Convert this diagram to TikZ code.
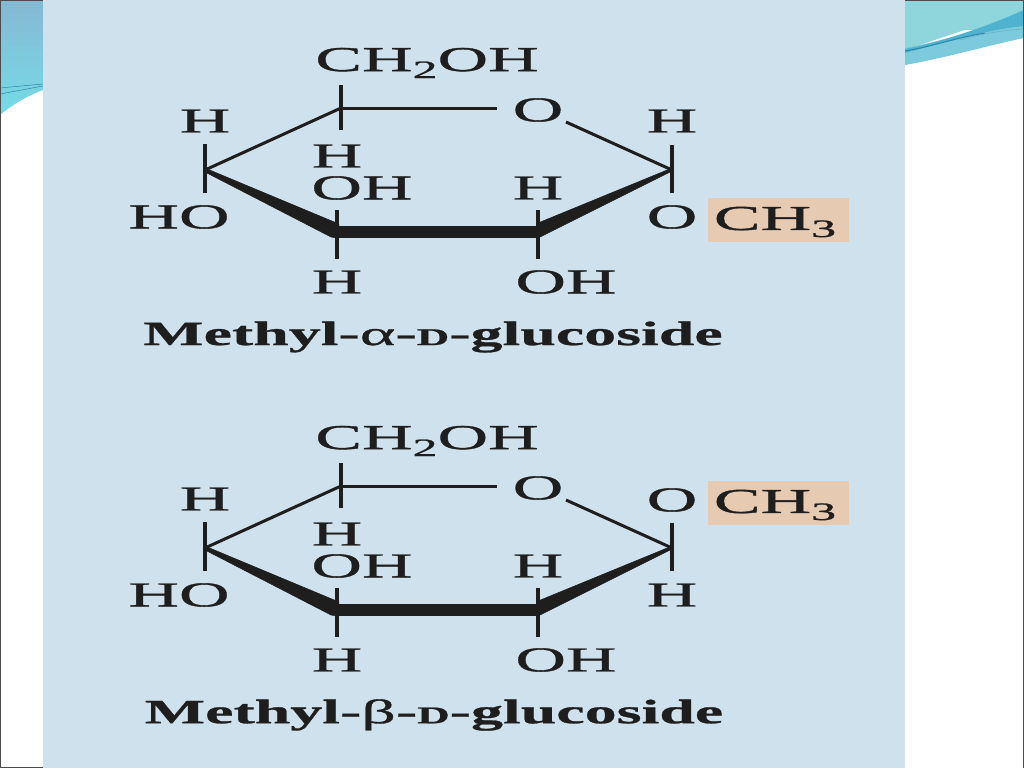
\documentclass[tikz,border=0pt]{standalone}
\usepackage{fontspec}
\usetikzlibrary{calc}
\newfontfamily\chem[FakeStretch=2.0,FakeBold=1.0]{Liberation Serif}
\newfontfamily\chemb[FakeStretch=1.88,FakeBold=0.8]{Liberation Serif Bold}
\definecolor{panel}{HTML}{CFE1EC}
\definecolor{inkc}{HTML}{1E1E1E}
\definecolor{tagc}{HTML}{E6CAB2}
\definecolor{tealA}{HTML}{8FD6DC}
\definecolor{tealB}{HTML}{7CCBDD}
\definecolor{tealC}{HTML}{4FB3CF}
\definecolor{tealD}{HTML}{2E86A8}
\definecolor{leftT}{HTML}{86B8D2}
\definecolor{leftB}{HTML}{74DCE8}
\newcommand{\subnum}[1]{\raisebox{-7pt}{\fontsize{25}{25}\selectfont #1}}
\tikzset{
  atom/.style={font=\chem\fontsize{35}{35}\selectfont,text=inkc,inner sep=0pt,outer sep=0pt},
  title/.style={font=\chemb\fontsize{34}{34}\selectfont,text=inkc,inner sep=0pt},
  tag/.style={fill=tagc,draw=none,minimum width=141pt,minimum height=44pt,inner sep=0pt},
  thinbond/.style={draw=inkc,line width=3pt},
  stem/.style={draw=inkc,line width=3.6pt},
  boldbond/.style={draw=inkc,line width=12.5pt},
  wedgeb/.style={fill=inkc,draw=inkc,line width=.5pt,line join=round}
}
% #1 prefix, #2 y offset
\newcommand{\ringcore}[2]{%
  \begin{scope}[shift={(0,#2)},name prefix=#1-]
    \coordinate (c1) at (672,170);
    \coordinate (c2) at (538,232);
    \coordinate (c3) at (337,232);
    \coordinate (c4) at (205,170);
    \coordinate (c5) at (341,108);
    \coordinate (c1t) at (672,145);
    \coordinate (c1b) at (672,193);
    \coordinate (c2t) at (538,210);
    \coordinate (c2b) at (538,259);
    \coordinate (c3t) at (337,210);
    \coordinate (c3b) at (337,259);
    \coordinate (c4t) at (205,144);
    \coordinate (c4b) at (205,193);
    \coordinate (c5t) at (341,85);
    \coordinate (c5b) at (341,130);
    \coordinate (oin) at (497,108);
    \coordinate (oout) at (566,122);
    \node[atom] (ch2oh) at (427,63) {CH\subnum{2}OH};
    \node[atom] (ringo) at (538,110) {O};
    \node[atom] (h4) at (205,121) {H};
    \node[atom] (ho4) at (179,217) {HO};
    \node[atom] (h5) at (337,156) {H};
    \node[atom] (oh3) at (362,188) {OH};
    \node[atom] (h3) at (337,282) {H};
    \node[atom] (h2) at (538,188) {H};
    \node[atom] (oh2) at (566,282) {OH};
    \draw[thinbond] (c5) -- (oin);
    \draw[thinbond] (c5) -- (c4);
    \draw[thinbond] (oout) -- (c1);
    \draw[stem] (c1t) -- (c1b);
    \draw[stem] (c2t) -- (c2b);
    \draw[stem] (c3t) -- (c3b);
    \draw[stem] (c4t) -- (c4b);
    \draw[stem] (c5t) -- (c5b);
    \draw[boldbond] (c3) -- (c2);
    \fill[wedgeb] ($(c4)+(1,-1.5)$) -- ($(c3)+(2,-8)$) -- ($(c3)+(0,6)$) -- ($(c3)+(-6,5)$) -- ($(c4)+(0,2)$) -- cycle;
    \fill[wedgeb] ($(c1)+(0,-2)$) -- ($(c2)+(0,-9)$) -- ($(c2)+(0,6)$) -- ($(c1)+(0,1)$) -- cycle;
  \end{scope}}
\begin{document}
\begin{tikzpicture}[x=1pt,y=-1pt]
\useasboundingbox (0,0) rectangle (1024,768);
\fill[white] (0,0) rectangle (1024,768);
% left decoration
\shade[top color=leftT,bottom color=leftB] (0,0) -- (43,0) -- (43,90) .. controls (25,97) and (12,105) .. (0,115) -- cycle;
\draw[tealD,line width=.5pt] (0,88) -- (43,84);
\draw[tealD,line width=.5pt] (0,94) -- (43,86);
% right decoration
\fill[tealA] (905,0) rectangle (1024,30);
\fill[tealA] (905,0) -- (1024,0) -- (1024,10) -- (905,50) -- cycle;
\fill[tealB] (905,48) .. controls (950,40) and (990,25) .. (1024,10) -- (1024,38) .. controls (990,45) and (945,58) .. (905,65) -- cycle;
\fill[tealC] (905,49) .. controls (950,40) and (990,25) .. (1024,10) -- (1024,26) .. controls (985,30) and (945,42) .. (905,53) -- cycle;
\draw[tealD,line width=1pt] (905,51) .. controls (930,47) and (955,38) .. (985,33);
\draw[tealD!70,line width=.5pt] (960,40) .. controls (985,33) and (1005,30) .. (1024,29);
% frame lines
\fill[black!70] (0,0) rectangle (1.2,768);
\fill[black!70] (0,0) rectangle (43,1);
\fill[black!70] (905,0) rectangle (1024,1);
\fill[black!70] (0,767) rectangle (43,768);
\fill[black!70] (1023,0) rectangle (1024,768);
% panel
\fill[panel] (43,0) rectangle (905,768);
% top molecule
\ringcore{a}{0}
\node[atom] (a-hone) at (672,121) {H};
\node[atom] (a-oone) at (672,217) {O};
\node[tag] (a-tag) at (778.5,220) {};
\node[atom] (a-me) at (775,222) {CH\subnum{3}};
\node[title] (a-title) at (433,337) {Methyl-{\chem α}-{\fontsize{24}{24}\selectfont D}-glucoside};
% bottom molecule
\ringcore{b}{378}
\node[atom] (b-oone) at (672,500) {O};
\node[atom] (b-hone) at (672,595) {H};
\node[tag] (b-tag) at (778.5,503) {};
\node[atom] (b-me) at (775,505) {CH\subnum{3}};
\node[title] (b-title) at (434,715) {Methyl-{\chem β}-{\fontsize{24}{24}\selectfont D}-glucoside};
\end{tikzpicture}
\end{document}
